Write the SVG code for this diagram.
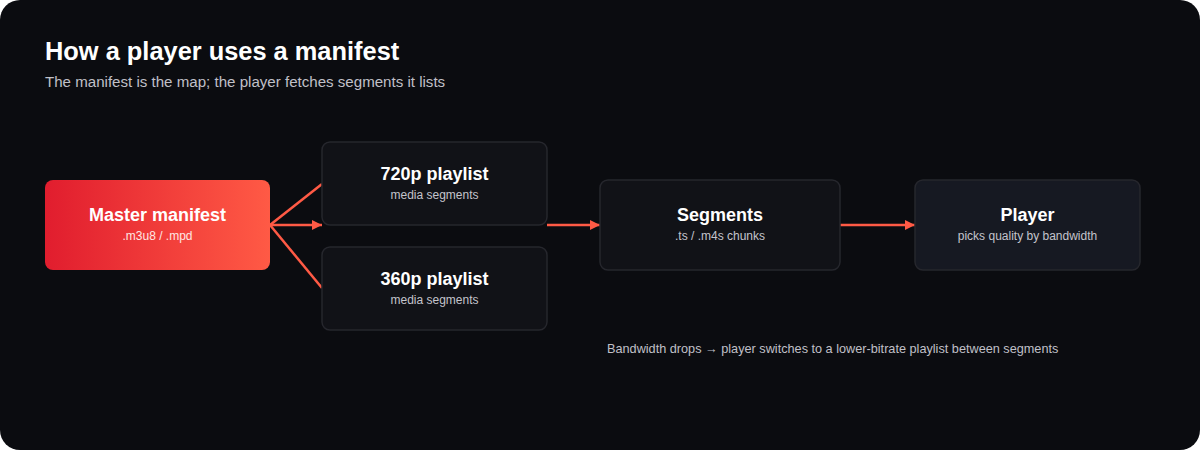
<svg xmlns="http://www.w3.org/2000/svg" width="1200" height="450" viewBox="0 0 1200 450">
<defs>
<linearGradient id="red" x1="0" y1="0" x2="1" y2="0">
<stop offset="0" stop-color="#e11d2e"/>
<stop offset="1" stop-color="#ff5a45"/>
</linearGradient>
<marker id="arr" viewBox="0 0 10 10" refX="10" refY="5" markerWidth="10" markerHeight="10" markerUnits="userSpaceOnUse" orient="auto">
<path d="M0,0 L10,5 L0,10 z" fill="#ff5a45"/>
</marker>
<style>
text{font-family:"Liberation Sans",Arial,sans-serif}
.box{fill:#111217;stroke:#26272d;stroke-width:1.5}
.t{font-size:18px;font-weight:bold;fill:#ffffff;text-anchor:middle}
.s{font-size:12px;fill:#c4c4cc;text-anchor:middle}
.c{stroke:#ff5a45;stroke-width:2.5;fill:none}
</style>
</defs>
<rect x="0" y="0" width="1200" height="450" rx="20" fill="#0b0c10"/>
<text x="45" y="60" font-size="25.4" font-weight="bold" fill="#ffffff">How a player uses a manifest</text>
<text x="45" y="87" font-size="15.1" fill="#c0c0c8">The manifest is the map; the player fetches segments it lists</text>
<g id="connectors">
<line class="c" x1="270" y1="225" x2="322" y2="184"/>
<line class="c" x1="270" y1="225" x2="322" y2="225" marker-end="url(#arr)"/>
<line class="c" x1="270" y1="225" x2="322" y2="288"/>
<line class="c" x1="547" y1="225" x2="600" y2="225" marker-end="url(#arr)"/>
<line class="c" x1="840" y1="225" x2="915" y2="225" marker-end="url(#arr)"/>
</g>
<g id="master">
<rect x="45" y="180" width="225" height="90" rx="8" fill="url(#red)"/>
<text class="t" x="157.5" y="221">Master manifest</text>
<text class="s" x="157.5" y="240" style="fill:#ffe6e3">.m3u8 / .mpd</text>
</g>
<g id="p720">
<rect class="box" x="322" y="142" width="225" height="83" rx="8"/>
<text class="t" x="434.5" y="180">720p playlist</text>
<text class="s" x="434.5" y="199">media segments</text>
</g>
<g id="p360">
<rect class="box" x="322" y="247" width="225" height="83" rx="8"/>
<text class="t" x="434.5" y="285">360p playlist</text>
<text class="s" x="434.5" y="304">media segments</text>
</g>
<g id="segments">
<rect class="box" x="600" y="180" width="240" height="90" rx="8"/>
<text class="t" x="720" y="221">Segments</text>
<text class="s" x="720" y="240">.ts / .m4s chunks</text>
</g>
<g id="player">
<rect class="box" x="915" y="180" width="225" height="90" rx="8" style="fill:#161922"/>
<text class="t" x="1027.5" y="221">Player</text>
<text class="s" x="1027.5" y="240">picks quality by bandwidth</text>
</g>
<text x="607" y="353" font-size="12.7" fill="#c0c0c8">Bandwidth drops → player switches to a lower-bitrate playlist between segments</text>
</svg>
